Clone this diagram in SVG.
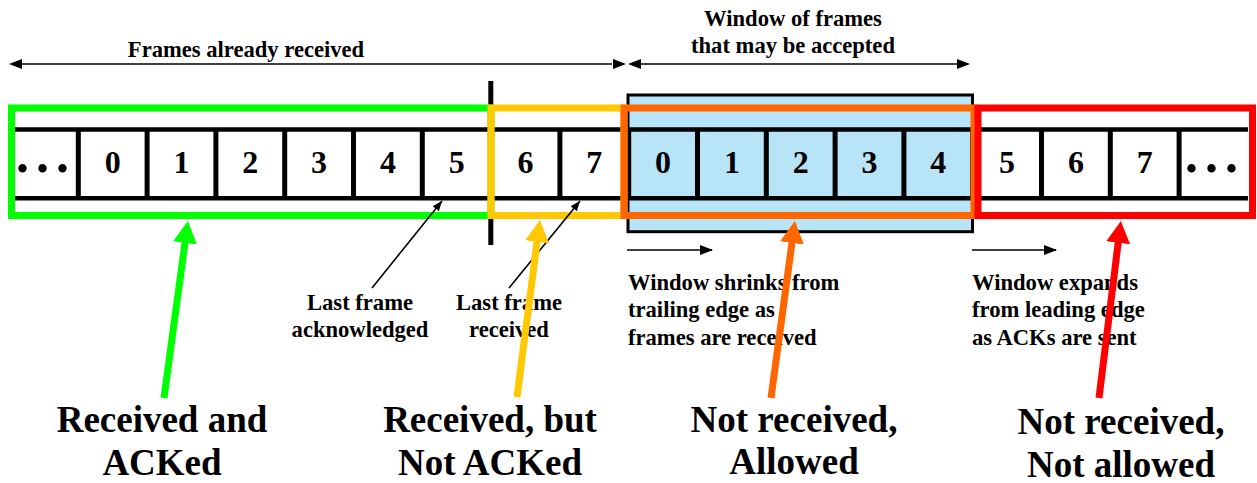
<svg xmlns="http://www.w3.org/2000/svg" width="1257" height="483" viewBox="0 0 1257 483">
<style>
.t{font-family:"Liberation Serif","Times New Roman",serif;font-weight:bold;fill:#000}
.sm{font-size:22.6px}
.dg{font-size:32px;text-anchor:middle}
.dots{font-size:52px;letter-spacing:7px}
.big{font-size:37px;text-anchor:middle}
.mid{text-anchor:middle}
.ln{stroke:#000;stroke-width:4.5;fill:none}
.dv{stroke:#000;stroke-width:5}
.thin{stroke:#000;stroke-width:1.6;fill:none}
.box{fill:none;stroke-width:7}
</style>
<defs>
<marker id="ah" markerUnits="userSpaceOnUse" orient="auto" markerWidth="16" markerHeight="12" refX="12" refY="5" viewBox="0 0 16 12"><path d="M0,0 L13,5 L0,10 z" fill="#000"/></marker>
<marker id="ahs" markerUnits="userSpaceOnUse" orient="auto" markerWidth="12" markerHeight="10" refX="10" refY="4" viewBox="0 0 12 10"><path d="M0,0 L10,4 L0,8 z" fill="#000"/></marker>
<marker id="mg" markerUnits="userSpaceOnUse" orient="auto" markerWidth="26" markerHeight="26" refX="1" refY="12" viewBox="0 0 26 26"><path d="M0,0 L22,12 L0,24 z" fill="#00ff00"/></marker>
<marker id="my" markerUnits="userSpaceOnUse" orient="auto" markerWidth="26" markerHeight="26" refX="1" refY="12" viewBox="0 0 26 26"><path d="M0,0 L22,12 L0,24 z" fill="#ffc800"/></marker>
<marker id="mo" markerUnits="userSpaceOnUse" orient="auto" markerWidth="26" markerHeight="26" refX="1" refY="12" viewBox="0 0 26 26"><path d="M0,0 L22,12 L0,24 z" fill="#ff6600"/></marker>
<marker id="mr" markerUnits="userSpaceOnUse" orient="auto" markerWidth="26" markerHeight="26" refX="1" refY="12" viewBox="0 0 26 26"><path d="M0,0 L22,12 L0,24 z" fill="#ff0000"/></marker>
</defs>
<rect width="1257" height="483" fill="#fff"/>

<g id="window-box">
<rect x="628" y="95" width="344.5" height="136.7" fill="#b8e4f8" stroke="#000" stroke-width="3"/>
</g>

<g id="frame-strip">
<line class="ln" x1="12" y1="129.5" x2="1248" y2="129.5"/>
<line class="ln" x1="12" y1="198.3" x2="1248" y2="198.3"/>
<g class="dv">
<line x1="78.3" y1="129.5" x2="78.3" y2="198.3"/>
<line x1="147.1" y1="129.5" x2="147.1" y2="198.3"/>
<line x1="215.9" y1="129.5" x2="215.9" y2="198.3"/>
<line x1="284.7" y1="129.5" x2="284.7" y2="198.3"/>
<line x1="353.5" y1="129.5" x2="353.5" y2="198.3"/>
<line x1="422.3" y1="129.5" x2="422.3" y2="198.3"/>
<line x1="491.1" y1="129.5" x2="491.1" y2="198.3"/>
<line x1="559.9" y1="129.5" x2="559.9" y2="198.3"/>
<line x1="628.7" y1="129.5" x2="628.7" y2="198.3"/>
<line x1="697.5" y1="129.5" x2="697.5" y2="198.3"/>
<line x1="766.3" y1="129.5" x2="766.3" y2="198.3"/>
<line x1="835.1" y1="129.5" x2="835.1" y2="198.3"/>
<line x1="903.9" y1="129.5" x2="903.9" y2="198.3"/>
<line x1="972.7" y1="129.5" x2="972.7" y2="198.3"/>
<line x1="1041.5" y1="129.5" x2="1041.5" y2="198.3"/>
<line x1="1110.3" y1="129.5" x2="1110.3" y2="198.3"/>
<line x1="1179.1" y1="129.5" x2="1179.1" y2="198.3"/>
</g>
<text class="t dots" x="16" y="171.5">...</text>
<text class="t dg" x="112.7" y="173.3">0</text>
<text class="t dg" x="181.5" y="173.3">1</text>
<text class="t dg" x="250.3" y="173.3">2</text>
<text class="t dg" x="319.1" y="173.3">3</text>
<text class="t dg" x="387.9" y="173.3">4</text>
<text class="t dg" x="456.7" y="173.3">5</text>
<text class="t dg" x="525.5" y="173.3">6</text>
<text class="t dg" x="594.3" y="173.3">7</text>
<text class="t dg" x="663.1" y="173.3">0</text>
<text class="t dg" x="731.9" y="173.3">1</text>
<text class="t dg" x="800.7" y="173.3">2</text>
<text class="t dg" x="869.5" y="173.3">3</text>
<text class="t dg" x="938.3" y="173.3">4</text>
<text class="t dg" x="1007.1" y="173.3">5</text>
<text class="t dg" x="1075.9" y="173.3">6</text>
<text class="t dg" x="1144.7" y="173.3">7</text>
<text class="t dots" x="1185" y="171.5">...</text>
</g>

<g id="divider-bar">
<line x1="490.8" y1="81" x2="490.8" y2="245" stroke="#000" stroke-width="5"/>
</g>

<g id="region-received-acked"><rect class="box" x="11.5" y="108" width="479.5" height="107.5" stroke="#00ff00"/></g>
<g id="region-received-not-acked"><rect class="box" x="491" y="108" width="133" height="107.5" stroke="#ffc800"/></g>
<g id="region-not-received-allowed"><rect class="box" x="624" y="108" width="350" height="107.5" stroke="#ff6600"/></g>
<g id="region-not-received-not-allowed"><rect class="box" x="978" y="108" width="274.5" height="107.5" stroke="#ff0000"/></g>

<g id="labels-top">
<text class="t sm mid" x="246" y="57">Frames already received</text>
<text class="t sm mid" x="793" y="26">Window of frames</text>
<text class="t sm mid" x="793" y="53">that may be accepted</text>
</g>

<g id="labels-pointers">
<text class="t sm mid" x="360" y="310">Last frame</text>
<text class="t sm mid" x="360" y="337">acknowledged</text>
<text class="t sm mid" x="509" y="310">Last frame</text>
<text class="t sm mid" x="509" y="337">received</text>
</g>

<g id="labels-window">
<text class="t sm" x="628" y="290">Window shrinks from</text>
<text class="t sm" x="628" y="317">trailing edge as</text>
<text class="t sm" x="628" y="345">frames are received</text>
<text class="t sm" x="972" y="290">Window expands</text>
<text class="t sm" x="972" y="317">from leading edge</text>
<text class="t sm" x="972" y="345">as ACKs are sent</text>
</g>

<g id="connectors">
<line class="thin" x1="22" y1="64" x2="612" y2="64"/>
<path d="M9,64 L22,59 L22,69 z" fill="#000"/>
<path d="M626,64 L613,59 L613,69 z" fill="#000"/>
<line class="thin" x1="640" y1="64" x2="958" y2="64"/>
<path d="M628,64 L641,59 L641,69 z" fill="#000"/>
<path d="M970,64 L957,59 L957,69 z" fill="#000"/>
<line class="thin" x1="627" y1="250" x2="712" y2="250" stroke-width="2" marker-end="url(#ah)"/>
<line class="thin" x1="972" y1="250" x2="1056" y2="250" stroke-width="2" marker-end="url(#ah)"/>
<line class="thin" x1="372" y1="288" x2="442" y2="201" marker-end="url(#ahs)"/>
<line class="thin" x1="509" y1="288" x2="580" y2="201" marker-end="url(#ahs)"/>
<line x1="164" y1="398" x2="185.1" y2="241.8" stroke="#00ff00" stroke-width="7" marker-end="url(#mg)"/>
<line x1="517" y1="397" x2="537.2" y2="240.8" stroke="#ffc800" stroke-width="7" marker-end="url(#my)"/>
<line x1="771" y1="398" x2="792.1" y2="241.8" stroke="#ff6600" stroke-width="7" marker-end="url(#mo)"/>
<line x1="1099" y1="398" x2="1118.3" y2="241.8" stroke="#ff0000" stroke-width="7" marker-end="url(#mr)"/>
</g>

<g id="labels-bottom">
<text class="t big" x="162" y="432">Received and</text>
<text class="t big" x="162" y="475">ACKed</text>
<text class="t big" x="490" y="432">Received, but</text>
<text class="t big" x="490" y="475">Not ACKed</text>
<text class="t big" x="794" y="432">Not received,</text>
<text class="t big" x="794" y="474">Allowed</text>
<text class="t big" x="1121" y="434">Not received,</text>
<text class="t big" x="1121" y="477">Not allowed</text>
</g>
</svg>
